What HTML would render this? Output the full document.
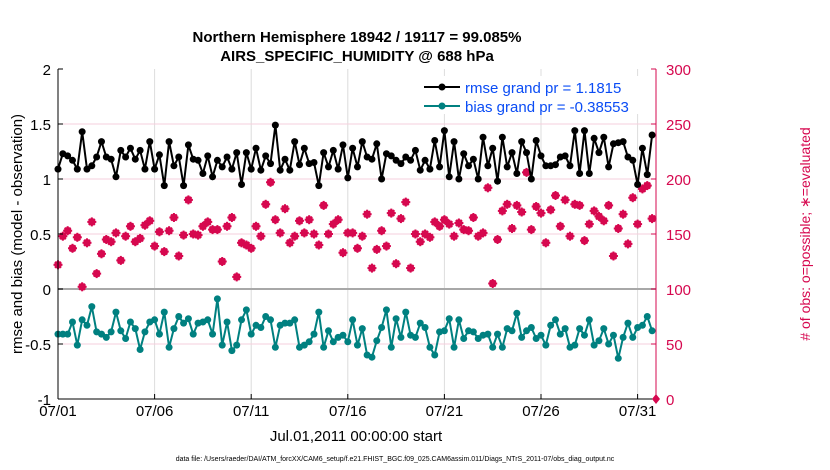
<!DOCTYPE html>
<html><head><meta charset="utf-8"><style>
html,body{margin:0;padding:0;background:#fff;}
svg{display:block;font-family:"Liberation Sans",Arial,sans-serif;}
</style></head><body>
<svg id="chart" width="830" height="470" viewBox="0 0 830 470">
  <text x="357" y="42" text-anchor="middle" font-size="15" font-weight="bold">Northern Hemisphere 18942 / 19117 = 99.085%</text>
  <text x="357" y="61" text-anchor="middle" font-size="15" font-weight="bold">AIRS_SPECIFIC_HUMIDITY @ 688 hPa</text>
  <g id="grid"></g>
  <g id="marks"></g>
  <g id="axes"></g>
  <text transform="translate(22,234) rotate(-90)" text-anchor="middle" font-size="15">rmse and bias (model - observation)</text>
  <text transform="translate(810,234) rotate(-90)" text-anchor="middle" font-size="14" fill="#d6084f"># of obs: o=possible; ∗=evaluated</text>
  <text x="356" y="441" text-anchor="middle" font-size="15">Jul.01,2011 00:00:00 start</text>
  <text x="395" y="461" text-anchor="middle" font-size="7">data file: /Users/raeder/DAI/ATM_forcXX/CAM6_setup/f.e21.FHIST_BGC.f09_025.CAM6assim.011/Diags_NTrS_2011-07/obs_diag_output.nc</text>
  <g>
    <rect x="418" y="76" width="234" height="38" fill="#fff"/>
    <g>
      <line x1="424" y1="87" x2="460" y2="87" stroke="#000" stroke-width="2"/>
      <circle cx="442" cy="87" r="3.5" fill="#000"/>
      <text x="465" y="93" font-size="15" fill="#0a4cf5">rmse grand pr = 1.1815</text>
    </g>
    <g>
      <line x1="424" y1="106" x2="460" y2="106" stroke="#008080" stroke-width="2"/>
      <circle cx="442" cy="106" r="3.5" fill="#008080"/>
      <text x="465" y="112" font-size="15" fill="#0a4cf5">bias grand pr = -0.38553</text>
    </g>
  </g>
</svg>
<script>
const rmseValues = [1.09,1.23,1.21,1.17,1.09,1.43,1.09,1.12,1.20,1.34,1.20,1.18,1.02,1.26,1.20,1.28,1.18,1.26,1.09,1.34,1.09,1.22,0.94,1.34,1.12,1.20,0.94,1.31,1.18,1.17,1.05,1.21,1.02,
1.17,1.11,1.20,1.09,1.24,0.95,1.24,1.09,1.28,1.08,1.21,1.14,1.49,1.08,1.18,1.08,1.34,1.13,1.28,1.14,1.15,0.94,1.24,1.11,1.26,1.09,1.31,1.01,1.28,1.11,1.34,1.20,
1.18,1.32,1.00,1.23,1.21,1.17,1.14,1.20,1.17,1.26,1.08,1.17,1.09,1.35,1.11,1.44,1.02,1.34,1.00,1.23,1.12,1.18,1.00,1.38,1.12,1.28,0.98,1.38,1.11,1.24,1.05,1.34,
1.24,1.00,1.35,1.21,1.12,1.12,1.13,1.20,1.21,1.12,1.44,1.05,1.44,1.05,1.37,1.24,1.38,1.11,1.32,1.33,1.34,1.20,1.17,0.95,1.28,1.04,1.40];
const biasValues = [-0.41,-0.41,-0.41,-0.30,-0.51,-0.28,-0.33,-0.16,-0.39,-0.41,-0.44,-0.39,-0.21,-0.38,-0.45,-0.30,-0.36,-0.55,-0.39,-0.30,-0.28,-0.41,-0.21,-0.53,-0.36,-0.25,-0.31,-0.27,-0.41,-0.31,-0.30,-0.28,-0.41,
-0.09,-0.51,-0.30,-0.56,-0.51,-0.28,-0.19,-0.41,-0.33,-0.35,-0.25,-0.28,-0.53,-0.33,-0.31,-0.31,-0.28,-0.53,-0.51,-0.48,-0.41,-0.21,-0.53,-0.38,-0.48,-0.44,-0.42,-0.48,-0.28,-0.51,-0.36,-0.60,
-0.62,-0.47,-0.35,-0.19,-0.53,-0.27,-0.44,-0.21,-0.42,-0.44,-0.31,-0.35,-0.53,-0.60,-0.39,-0.38,-0.27,-0.53,-0.28,-0.45,-0.38,-0.39,-0.45,-0.42,-0.41,-0.53,-0.41,-0.53,-0.36,-0.38,-0.22,-0.44,
-0.38,-0.35,-0.45,-0.42,-0.51,-0.33,-0.28,-0.41,-0.36,-0.53,-0.51,-0.36,-0.42,-0.28,-0.51,-0.47,-0.36,-0.50,-0.42,-0.63,-0.44,-0.31,-0.44,-0.35,-0.33,-0.25,-0.38];
const obsPossible = [122,148,153,137,147,102,142,161,114,132,145,143,151,126,148,157,143,146,158,162,139,152,134,153,165,130,149,181,150,149,157,161,154,
154,125,157,165,111,142,140,137,157,148,177,197,163,151,173,142,148,162,151,163,150,140,176,150,159,163,133,151,151,137,148,168,
119,136,153,139,169,123,164,179,119,150,143,150,147,161,157,163,159,148,160,154,153,165,148,151,192,105,145,171,177,155,176,170,
206,154,175,169,142,172,185,157,181,148,177,176,144,159,171,166,162,176,130,155,168,141,183,159,191,194,164];
const obsEvaluated = obsPossible.map(v => v);
const xTickLabels = ["07/01","07/06","07/11","07/16","07/21","07/26","07/31"];
const xTickDays = [0,5,10,15,20,25,30];
const leftTicks = [2,1.5,1,0.5,0,-0.5,-1];
const leftTickLabels = ["2","1.5","1","0.5","0","-0.5","-1"];
const rightTicks = [300,250,200,150,100,50,0];
const stepDays = 0.25;

const NS = "http://www.w3.org/2000/svg";
const X0 = 58, X1 = 656, DAY = 19.32, YTOP = 69, YBOT = 399;
const xs = d => X0 + d * DAY;
const yL = v => 289 - v * 110;
const yR = c => YBOT - c * 1.1;
function mk(tag, attrs, parent) { const e = document.createElementNS(NS, tag); for (const k in attrs) e.setAttribute(k, attrs[k]); parent.appendChild(e); return e; }
const grid = document.getElementById('grid'), marks = document.getElementById('marks'), axes = document.getElementById('axes');

xTickDays.forEach((d, i) => {
  const l = mk('line', {x1: xs(d), x2: xs(d), y1: YTOP, y2: YBOT, stroke: '#dcdcdc', 'stroke-width': 1}, grid);
  
  
  mk('line', {x1: xs(d), x2: xs(d), y1: YBOT - 5, y2: YBOT, stroke: '#000'}, axes);
  const t = mk('text', {x: xs(d), y: 416, 'text-anchor': 'middle', 'font-size': 15}, axes);
  t.textContent = xTickLabels[i];
  
  
});
leftTicks.forEach((v, i) => {
  if (v !== 0 && v !== 2 && v !== -1) {
    const l = mk('line', {x1: X0, x2: X1, y1: yL(v), y2: yL(v), stroke: '#f6cfdc', 'stroke-width': 1}, grid);
    
    
  }
  const t = mk('text', {x: 51, y: yL(v) + 6, 'text-anchor': 'end', 'font-size': 15}, axes);
  t.textContent = leftTickLabels[i];
  
  
  mk('line', {x1: X0, x2: X0 + 5, y1: yL(v), y2: yL(v), stroke: '#000'}, axes);
});
const zl = mk('line', {x1: X0, x2: X1, y1: yL(0), y2: yL(0), stroke: '#a8a8a8', 'stroke-width': 2}, grid);


rightTicks.forEach(c => {
  const t = mk('text', {x: 666, y: yR(c) + 6, 'font-size': 15, fill: '#d6084f'}, axes);
  t.textContent = String(c);
  
  
  mk('line', {x1: X1 - 5, x2: X1, y1: yR(c), y2: yR(c), stroke: '#d6084f'}, axes);
});
const la = mk('line', {x1: X0, x2: X0, y1: YTOP, y2: YBOT, stroke: '#000', 'stroke-width': 1}, axes);
 
const ba = mk('line', {x1: X0, x2: X1, y1: YBOT, y2: YBOT, stroke: '#000', 'stroke-width': 1}, axes);
 
const ra = mk('line', {x1: X1, x2: X1, y1: YTOP, y2: YBOT, stroke: '#d6084f', 'stroke-width': 1}, axes);
 
const dm = mk('path', {d: `M${X1} ${YBOT-5} L${X1+4} ${YBOT} L${X1} ${YBOT+5} L${X1-4} ${YBOT} Z`, fill: '#d6084f'}, axes);
 

obsPossible.forEach((c, i) => {
  const x = xs(i * stepDays), y = yR(c);
  const ci = mk('circle', {cx: x, cy: y, r: 3, fill: 'none', stroke: '#d6084f', 'stroke-width': 1.5}, marks);
  
  
});
obsEvaluated.forEach((c, i) => {
  const x = xs(i * stepDays), y = yR(c);
  const g = mk('g', {stroke: '#d6084f', 'stroke-width': 2}, marks);
  
  
  mk('line', {x1: x - 4.5, x2: x + 4.5, y1: y, y2: y}, g);
  mk('line', {x1: x, x2: x, y1: y - 4.5, y2: y + 4.5}, g);
  mk('line', {x1: x - 3, x2: x + 3, y1: y - 3, y2: y + 3}, g);
  mk('line', {x1: x - 3, x2: x + 3, y1: y + 3, y2: y - 3}, g);
  mk('circle', {cx: x, cy: y, r: 2.5, fill: '#d6084f', stroke: 'none'}, g);
});
function series(vals, color, name) {
  const pts = vals.map((v, i) => `${xs(i * stepDays).toFixed(1)},${yL(v).toFixed(1)}`).join(' ');
  const pl = mk('polyline', {points: pts, fill: 'none', stroke: color, 'stroke-width': 2}, marks);
  
  
  vals.forEach((v, i) => {
    const c = mk('circle', {cx: xs(i * stepDays), cy: yL(v), r: 3.5, fill: color}, marks);
    
    
  });
}
series(rmseValues, '#000', 'rmse');
series(biasValues, '#008080', 'bias');
</script>
</body></html>
